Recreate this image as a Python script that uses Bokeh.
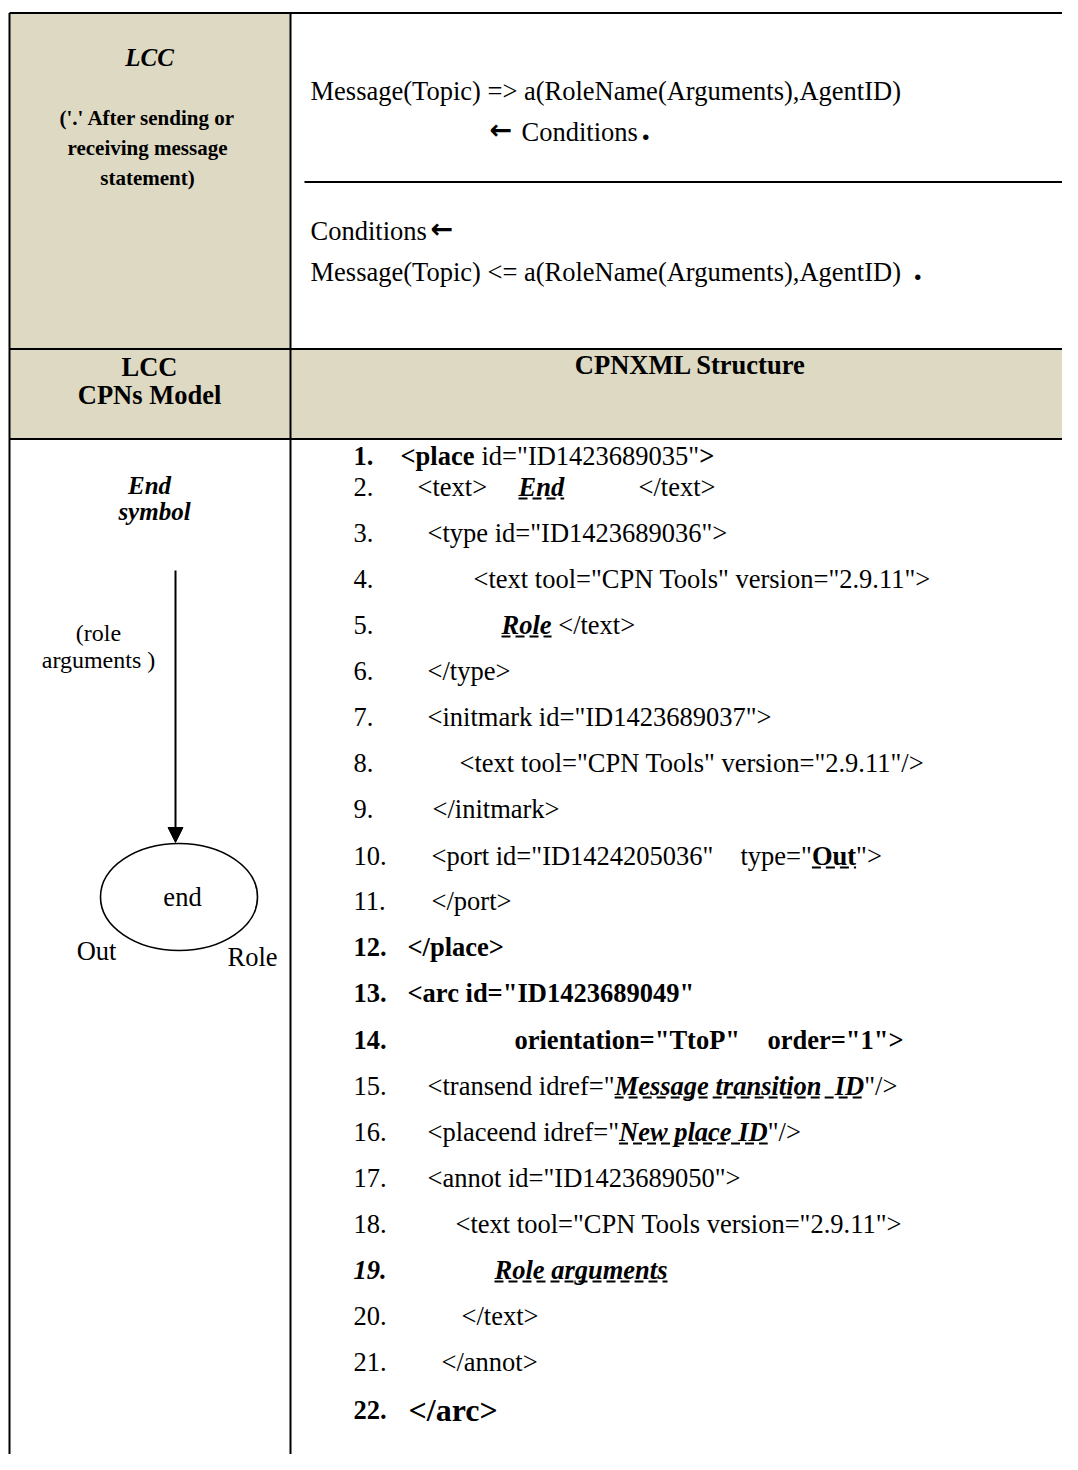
import re
from bokeh.plotting import figure
from bokeh.models import ColumnDataSource, Range1d, Arrow, NormalHead
from bokeh.core.properties import value
from bokeh.embed import file_html
from bokeh.resources import INLINE

# ---------------- content ----------------
lcc_title = "LCC"
lcc_note = ["('.' After sending or", "receiving message", "statement)"]
send_stmt = "Message(Topic) => a(RoleName(Arguments),AgentID)"
send_cond = "Conditions"
recv_cond = "Conditions"
recv_stmt = "Message(Topic) <= a(RoleName(Arguments),AgentID)"
arrow_sym = "\u2190"
end_dot = "."
header_left = ["LCC", "CPNs Model"]
header_right = "CPNXML Structure"
symbol_title = ["End", "symbol"]
arc_label = ["(role", "arguments )"]
place_name = "end"
port_label = "Out"
type_label = "Role"

code_numbers = [f"{i}." for i in range(1, 23)]
number_styles = ["b", "n", "n", "n", "n", "n", "n", "n", "n", "n", "n",
                 "b", "b", "b", "n", "n", "n", "n", "bi", "n", "n", "b"]
# each segment: (text, style, underlined)
code_lines = [
    [("<place", "b", 0), ('id="ID1423689035"', "n", 0), (">", "b", 0)],
    [("<text>", "n", 0), ("End", "bi", 1), ("</text>", "n", 0)],
    [('<type id="ID1423689036">', "n", 0)],
    [('<text tool="CPN Tools" version="2.9.11">', "n", 0)],
    [("Role", "bi", 1), (" </text>", "n", 0)],
    [("</type>", "n", 0)],
    [('<initmark id="ID1423689037">', "n", 0)],
    [('<text tool="CPN Tools" version="2.9.11"/>', "n", 0)],
    [("</initmark>", "n", 0)],
    [('<port id="ID1424205036"', "n", 0), ('type="', "n", 0), ("Out", "b", 1), ('">', "n", 0)],
    [("</port>", "n", 0)],
    [("</place>", "b", 0)],
    [('<arc id="ID1423689049"', "b", 0)],
    [('orientation="TtoP"', "b", 0), ('order="1">', "b", 0)],
    [('<transend idref="', "n", 0), ("Message transition  ID", "bi", 1), ('"/>', "n", 0)],
    [('<placeend idref="', "n", 0), ("New place ID", "bi", 1), ('"/>', "n", 0)],
    [('<annot id="ID1423689050">', "n", 0)],
    [('<text tool="CPN Tools version="2.9.11">', "n", 0)],
    [("Role arguments", "bi", 1)],
    [("</text>", "n", 0)],
    [("</annot>", "n", 0)],
    [("</arc>", "b", 0)],
]

# ---------------- layout ----------------
XL, XR, YT, YB = 9, 1078, 12.5, 1470
X_DIV = 290
Y_H1, Y_H2 = 348.5, 438.5
Y_SEP, X_SEP = 181.5, 304
BEIGE = "#DDD9C3"
SERIF = "Liberation Serif"
FS = 26.5

code_y = [455, 486, 532, 578, 624, 670, 716, 762, 808, 855, 900,
          946, 992, 1039, 1085, 1131, 1177, 1223, 1269, 1315, 1361, 1409]
num_x = 353
# start x of each segment (None = follows previous segment)
code_x = [
    [400, 481, None],
    [417, 518, 638],
    [427],
    [473],
    [501, None],
    [427],
    [427],
    [459],
    [432],
    [431, 740, None, None],
    [431],
    [407],
    [407],
    [514, 767],
    [427, None, None],
    [427, None, None],
    [427],
    [455],
    [494],
    [461],
    [441],
    [408],
]
code_size = [FS] * 21 + [32]

# Times-compatible advance widths (1/1000 em)
UP = {"n": [722,667,667,722,611,556,722,722,333,389,722,611,889,722,722,556,722,667,556,611,722,722,944,722,722,611],
      "b": [722,667,722,722,667,611,778,778,389,500,778,667,944,722,778,611,778,722,556,667,722,722,1000,722,722,667],
      "bi": [667,667,667,722,667,667,722,778,389,500,667,611,889,722,722,611,722,667,556,611,722,667,889,667,611,611]}
LO = {"n": [444,500,444,500,444,333,500,500,278,278,500,278,778,500,500,500,500,333,389,278,500,500,722,500,500,444],
      "b": [500,556,444,556,444,333,500,556,278,333,556,278,833,556,500,556,556,444,389,333,556,500,722,500,500,444],
      "bi": [500,500,444,500,444,333,500,556,278,278,500,278,778,556,500,500,500,389,389,278,556,444,667,500,444,389]}
PUN = {"n": {' ': 250, '"': 408, "'": 180, '(': 333, ')': 333, ',': 250, '.': 250, '/': 278, '<': 564, '=': 564, '>': 564},
       "b": {' ': 250, '"': 555, "'": 278, '(': 333, ')': 333, ',': 250, '.': 250, '/': 278, '<': 570, '=': 570, '>': 570}}
PUN["bi"] = PUN["b"]


def text_width(s, style, size):
    w = 0
    for ch in s:
        if "A" <= ch <= "Z":
            w += UP[style][ord(ch) - 65]
        elif "a" <= ch <= "z":
            w += LO[style][ord(ch) - 97]
        elif ch.isdigit():
            w += 500
        else:
            w += PUN[style].get(ch, 500)
    return w * size / 1000.0


STYLE = {"n": "normal", "b": "bold", "i": "italic", "bi": "bold italic"}
groups = {}


def add_text(x, y, s, style="n", size=FS, align="left", font=SERIF):
    key = (STYLE[style], size, align, font)
    g = groups.setdefault(key, {"x": [], "y": [], "t": []})
    g["x"].append(x)
    g["y"].append(y)
    g["t"].append(s)


def add_run(x, y, s, style, size):
    """Place a run of text keeping runs of spaces (SVG collapses them)."""
    pos = x
    for m in re.finditer(r"( +)|([^ ]+(?: [^ ]+)*)", s):
        chunk = m.group(0)
        if m.group(1) is None:
            add_text(pos, y, chunk, style, size)
        pos += text_width(chunk, style, size)
    return pos


ul = {"x0": [], "x1": [], "y": []}

# ---------------- figure ----------------
W, H = 1062, 1454
p = figure(width=W, height=H, output_backend="svg", toolbar_location=None,
           x_range=Range1d(0, W), y_range=Range1d(H, 0),
           x_axis_location=None, y_axis_location=None, min_border=0,
           background_fill_color="white", outline_line_color=None)
p.xgrid.visible = False
p.ygrid.visible = False

# backgrounds
p.quad(left=[XL, XL], right=[X_DIV, XR], top=[YT, Y_H1], bottom=[Y_H1, Y_H2],
       fill_color=BEIGE, line_color=None)

# table rules
p.segment(x0=[XL, XL, XL, X_SEP, XL, X_DIV],
          y0=[YT, Y_H1, Y_H2, Y_SEP, YT, YT],
          x1=[XR, XR, XR, XR, XL, X_DIV],
          y1=[YT, Y_H1, Y_H2, Y_SEP, YB, YB],
          line_color="black", line_width=2)

# left top cell
add_text(149, 57, lcc_title, "bi", 25, "center")
for yy, s in zip([117, 147, 177], lcc_note):
    add_text(147, yy, s, "b", 21, "center")

# right top cell
add_text(310, 90, send_stmt)
add_text(489, 129, arrow_sym, "b", 27, "left", "DejaVu Sans")
add_text(521, 131, send_cond)
add_text(641, 128, end_dot, "b", 34)
add_text(310, 230, recv_cond)
add_text(430, 228, arrow_sym, "b", 27, "left", "DejaVu Sans")
add_text(310, 271, recv_stmt)
add_text(913, 268, end_dot, "b", 34)

# header row
add_text(149, 366, header_left[0], "b", FS, "center")
add_text(149, 394, header_left[1], "b", FS, "center")
add_text(690, 364, header_right, "b", FS, "center")

# left bottom cell
add_text(149, 485, symbol_title[0], "bi", 25, "center")
add_text(154, 511, symbol_title[1], "bi", 25, "center")
add_text(98, 632, arc_label[0], "n", 24, "center")
add_text(98, 659, arc_label[1], "n", 24, "center")
add_text(182, 896, place_name, "n", FS, "center")
add_text(96, 950, port_label, "n", FS, "center")
add_text(252, 956, type_label, "n", FS, "center")

p.ellipse(x=[178.5], y=[896.5], width=[157], height=[107],
          fill_color=None, line_color="black", line_width=1.6)
p.add_layout(Arrow(end=NormalHead(size=15, fill_color="black", line_color="black"),
                   x_start=175, y_start=570, x_end=175, y_end=842,
                   line_color="black", line_width=2))

# code lines
for num, nst, segs, xs, yy, sz in zip(code_numbers, number_styles, code_lines,
                                       code_x, code_y, code_size):
    add_text(num_x, yy, num, nst, FS)
    cur = 0
    for (s, st, u), xx in zip(segs, xs):
        x = xx if xx is not None else cur
        end = add_run(x, yy, s, st, sz)
        if u:
            ul["x0"].append(x)
            ul["x1"].append(end)
            ul["y"].append(yy + 12)
        cur = end

p.segment(x0="x0", x1="x1", y0="y", y1="y", source=ColumnDataSource(ul),
          line_color="black", line_width=2, line_dash="9 5")

for (style, size, align, font), g in groups.items():
    p.text(x="x", y="y", text="t", source=ColumnDataSource(g),
           text_font=value(font), text_font_style=style,
           text_font_size=value(f"{size}px"), text_align=align,
           text_baseline="middle", text_color="black")

open("out.html", "w").write(file_html(p, INLINE))
